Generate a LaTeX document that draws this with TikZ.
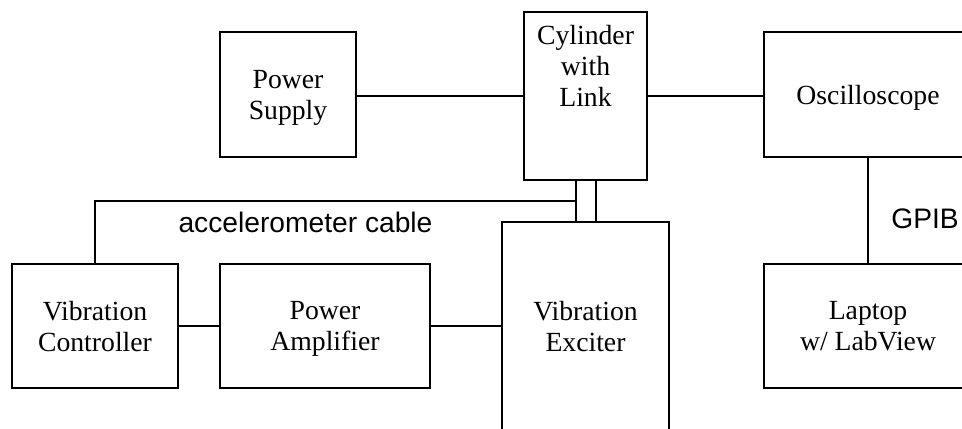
\documentclass[tikz,border=0pt]{standalone}
\usepackage{fontspec}
\setmainfont{Liberation Serif}
\newfontfamily\arialfont{Liberation Sans}

\tikzset{
  box/.style={draw, inner sep=0pt, align=center, text depth=0pt,
    execute at begin node={\rule{0pt}{9.5pt}},
    font=\fontsize{13.85}{15.5}\selectfont},
  wirelabel/.style={inner sep=0pt, font=\arialfont\fontsize{14.1}{16}\selectfont}
}

\begin{document}
\begin{tikzpicture}[x=0.5pt,y=-0.5pt,line width=0.75pt]

\useasboundingbox (0,0) rectangle (962,428);
\clip (0,0) rectangle (962,428);

% Cajas de arriba
\node[box, minimum width=68pt, minimum height=62.5pt] (ps) at (288,94.5) {Power\\Supply};
\node[box, minimum width=61.5pt, minimum height=84pt,
      label={[align=center,yshift=15pt,font=\fontsize{13.85}{15.5}\selectfont]center:{Cylinder\\with\\Link}}] (cyl) at (585.5,96) {};
\node[box, minimum width=104pt, minimum height=62.5pt] (osc) at (868,94.5) {Oscilloscope};

% Cajas de abajo
\node[box, minimum width=83pt, minimum height=62pt] (vc) at (95,326) {Vibration\\Controller};
\node[box, minimum width=105pt, minimum height=62pt] (pa) at (325,326) {Power\\Amplifier};
\node[box, minimum width=83.5pt, minimum height=104pt] (exc) at (585.5,326) {Vibration\\Exciter};
\node[box, minimum width=104pt, minimum height=62pt] (lap) at (868,326) {Laptop\\w/ LabView};

% Cables
\draw (ps.east |- cyl.west) -- (cyl.west);
\draw (cyl.east) -- (cyl.east -| osc.west);
\draw (osc.south) -- (lap.north);
\draw (vc.east) -- (pa.west);
\draw (pa.east) -- (exc.west);
\draw ([xshift=-4.75pt]cyl.south) -- ([xshift=-4.75pt]cyl.south |- exc.north);
\draw ([xshift=5.25pt]cyl.south) -- ([xshift=5.25pt]cyl.south |- exc.north);
\draw (vc.north) |- ([xshift=-4.75pt,yshift=-10pt]cyl.south);

% Textos
\node[wirelabel] (acc) at (305.5,222) {accelerometer cable};
\node[wirelabel] (gpib) at (925,219) {GPIB};

\end{tikzpicture}
\end{document}
